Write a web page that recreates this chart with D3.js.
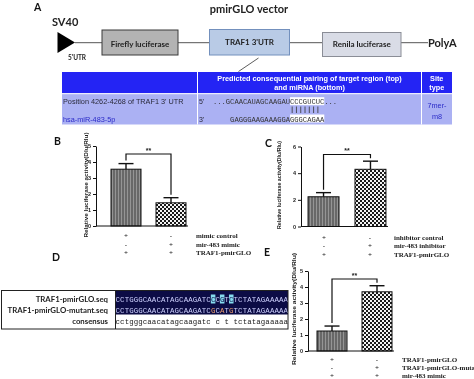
<!DOCTYPE html>
<html lang="en">
<head>
<meta charset="UTF-8">
<title>TRAF1 3'UTR luciferase reporter</title>
<script src="https://d3js.org/d3.v7.min.js"></script>
<style>
  body { margin: 0; background: #fff; }
  svg { display: block; will-change: transform; opacity: 0.999; }
  .sans { font-family: Lato, "Liberation Sans", Arial, sans-serif; font-weight: bold; }
  .arial { font-family: "Liberation Sans", Arial, sans-serif; }
  .mono { font-family: "Liberation Mono", "DejaVu Sans Mono", monospace; }
  .serif { font-family: "Liberation Serif", "Times New Roman", serif; font-weight: bold; }
</style>
</head>
<body>
<div id="chart"></div>
<script>
// ---- data ----
const barGroups = ["control", "treated"];

const bValues = [3.55, 1.45];
const bErrors = [0.35, 0.32];
const bTicks = [0, 1, 2, 3, 4, 5];
const bSigns = [["+", "-"], ["-", "+"], ["+", "+"]];
const bRowLabels = ["mimic control", "mir-483 mimic", "TRAF1-pmirGLO"];

const cValues = [2.23, 4.29];
const cErrors = [0.31, 0.61];
const cTicks = [0, 2, 4, 6];
const cSigns = [["+", "-"], ["-", "+"], ["+", "+"]];
const cRowLabels = ["inhibitor control", "mir-483 inhibitor", "TRAF1-pmirGLO"];

const eValues = [1.25, 3.7];
const eErrors = [0.31, 0.38];
const eTicks = [0, 1, 2, 3, 4, 5];
const eSigns = [["+", "-"], ["-", "+"], ["+", "+"]];
const eRowLabels = ["TRAF1-pmirGLO", "TRAF1-pmirGLO-mutant", "mir-483 mimic"];

const sigLevels = [4.5, 5.4, 4.5];   // height of the ** brackets (B, C, E)
const yTitle = "Relative luciferase activity(Dlu/Rlu)";

const vectorParts = ["Firefly luciferase", "TRAF1 3'UTR", "Renila luciferase"];

const targetTop = "...GCAACAUAGCAAGAUCCCGUCUC...";
const mirnaBottom = "GAGGGAAGAAAGGAGGGCAGAA";
const seedStart = 18;   // first paired base in targetTop
const seedLen = 7;

const seqNames = ["TRAF1-pmirGLO.seq", "TRAF1-pmirGLO-mutant.seq", "consensus"];
const wildSeq = "CCTGGGCAACATAGCAAGATCCCGTCTCTATAGAAAAA";
const mutSeq  = "CCTGGGCAACATAGCAAGATCGCATGTCTATAGAAAAA";

// ---- svg ----
const svg = d3.select("#chart").append("svg")
    .attr("width", 474).attr("height", 379);
svg.append("rect").attr("width", 474).attr("height", 379).attr("fill", "#fff");

const defs = svg.append("defs");
const stripes = defs.append("pattern").attr("id", "stripes")
    .attr("patternUnits", "userSpaceOnUse").attr("width", 3).attr("height", 3);
stripes.append("rect").attr("width", 3).attr("height", 3).attr("fill", "#686868");
stripes.append("rect").attr("x", 1).attr("width", 1).attr("height", 3).attr("fill", "#959595");

const checker = defs.append("pattern").attr("id", "checker")
    .attr("patternUnits", "userSpaceOnUse").attr("width", 4).attr("height", 4);
checker.append("rect").attr("width", 4).attr("height", 4).attr("fill", "#f4f4f4");
checker.append("rect").attr("width", 2).attr("height", 2).attr("fill", "#1a1a1a");
checker.append("rect").attr("x", 2).attr("y", 2).attr("width", 2).attr("height", 2).attr("fill", "#1a1a1a");

// panel letters
[["A", 34, 11], ["B", 54, 145], ["C", 265, 147], ["D", 52, 261], ["E", 264, 256]].forEach(d => {
    svg.append("text").attr("class", "sans").attr("x", d[1]).attr("y", d[2])
        .attr("font-size", 10.5).attr("fill", "#111").text(d[0]);
});

// ---- panel A: vector map ----
svg.append("text").attr("class", "sans").attr("x", 249).attr("y", 13)
    .attr("text-anchor", "middle").attr("font-size", 11).attr("fill", "#222").text("pmirGLO vector");
svg.append("text").attr("class", "sans").attr("x", 52).attr("y", 25.5)
    .attr("font-size", 11).attr("fill", "#222").text("SV40");
svg.append("line").attr("x1", 75).attr("x2", 428).attr("y1", 42.7).attr("y2", 42.7)
    .attr("stroke", "#555").attr("stroke-width", 1);
svg.append("path").attr("d", "M57.5,32 L75,42.5 L57.5,53 Z").attr("fill", "#000");
svg.append("text").attr("class", "sans").attr("x", 68).attr("y", 59.5)
    .attr("font-size", 6.5).attr("fill", "#222").text("5'UTR");

const boxes = [
    { x: 102, y: 30, w: 76, h: 25, fill: "#b3b3b3", stroke: "#3a3a3a", ty: 46.5 },
    { x: 209.5, y: 29.5, w: 80, h: 25.5, fill: "#b9cbe6", stroke: "#7390bd", ty: 44.5 },
    { x: 322.5, y: 32.5, w: 78.5, h: 24, fill: "#d9dce6", stroke: "#8a8d96", ty: 46.5 }
];
boxes.forEach((b, i) => {
    svg.append("rect").attr("x", b.x).attr("y", b.y).attr("width", b.w).attr("height", b.h)
        .attr("fill", b.fill).attr("stroke", b.stroke).attr("stroke-width", 1);
    svg.append("text").attr("class", "sans").attr("x", b.x + b.w / 2).attr("y", b.ty)
        .attr("text-anchor", "middle").attr("font-size", 8).attr("fill", "#222").text(vectorParts[i]);
});
svg.append("text").attr("class", "sans").attr("x", 428).attr("y", 46.5)
    .attr("font-size", 11).attr("fill", "#222").text("PolyA");
svg.append("line").attr("x1", 258.5).attr("y1", 58).attr("x2", 238.5).attr("y2", 71.5)
    .attr("stroke", "#333").attr("stroke-width", 0.8);

// table
const tX = 62, tW = 390, col2 = 197.5, col3 = 421.5;
svg.append("rect").attr("x", tX).attr("y", 72).attr("width", tW).attr("height", 21.5).attr("fill", "#2424f4");
svg.append("rect").attr("x", tX).attr("y", 94).attr("width", tW).attr("height", 30.5).attr("fill", "#abb1f3");
[col2, col3].forEach(x => svg.append("line").attr("x1", x).attr("x2", x).attr("y1", 72).attr("y2", 124.5)
    .attr("stroke", "#fff").attr("stroke-width", 1));
svg.append("line").attr("x1", tX).attr("x2", tX + tW).attr("y1", 93.7).attr("y2", 93.7)
    .attr("stroke", "#fff").attr("stroke-width", 1);

const hdr = svg.append("g").attr("class", "arial").attr("font-weight", "bold")
    .attr("fill", "#fff").attr("font-size", 7.3).attr("text-anchor", "middle");
hdr.append("text").attr("x", (col2 + col3) / 2).attr("y", 81).text("Predicted consequential pairing of target region (top)");
hdr.append("text").attr("x", (col2 + col3) / 2).attr("y", 90).text("and miRNA (bottom)");
hdr.append("text").attr("x", (col3 + tX + tW) / 2).attr("y", 81).text("Site");
hdr.append("text").attr("x", (col3 + tX + tW) / 2).attr("y", 90).text("type");

svg.append("text").attr("class", "arial").attr("x", 63).attr("y", 103.5)
    .attr("font-size", 7.3).attr("fill", "#2a2a3a").text("Position 4262-4268 of TRAF1 3' UTR");
svg.append("text").attr("class", "arial").attr("x", 63).attr("y", 121.5)
    .attr("font-size", 7.3).attr("fill", "#2b2bc8").text("hsa-miR-483-5p");
svg.append("text").attr("class", "arial").attr("x", 199).attr("y", 103.5)
    .attr("font-size", 7).attr("fill", "#2a2a3a").text("5'");
svg.append("text").attr("class", "arial").attr("x", 199).attr("y", 121.5)
    .attr("font-size", 7).attr("fill", "#2a2a3a").text("3'");
svg.append("text").attr("class", "arial").attr("x", 437).attr("y", 108)
    .attr("text-anchor", "middle").attr("font-size", 7.3).attr("fill", "#2b2bc8").text("7mer-");
svg.append("text").attr("class", "arial").attr("x", 437).attr("y", 118.5)
    .attr("text-anchor", "middle").attr("font-size", 7.3).attr("fill", "#2b2bc8").text("m8");

const cw = 4.28, topX = 213, botX = topX + 4 * cw;
// highlights behind the seed match
svg.append("rect").attr("x", topX + seedStart * cw).attr("y", 97.2).attr("width", 8 * cw).attr("height", 8)
    .attr("fill", "#fff");
svg.append("rect").attr("x", botX + (mirnaBottom.length - 8) * cw).attr("y", 114.5).attr("width", 8 * cw).attr("height", 8)
    .attr("fill", "#fff");
svg.append("text").attr("class", "mono").attr("x", topX).attr("y", 103.5).attr("font-size", 7)
    .attr("textLength", targetTop.length * cw).attr("lengthAdjust", "spacingAndGlyphs")
    .attr("fill", "#333").text(targetTop);
svg.append("text").attr("class", "mono").attr("x", botX).attr("y", 121.5).attr("font-size", 7)
    .attr("textLength", mirnaBottom.length * cw).attr("lengthAdjust", "spacingAndGlyphs")
    .attr("fill", "#333").text(mirnaBottom);
d3.range(seedLen).forEach(i => {
    const x = topX + (seedStart + i + 0.5) * cw;
    svg.append("line").attr("x1", x).attr("x2", x).attr("y1", 106.5).attr("y2", 113)
        .attr("stroke", "#333").attr("stroke-width", 0.8);
});

// ---- bar panels ----
function drawBars(cfg) {
    const y = d3.scaleLinear().domain([0, d3.max(cfg.ticks)]).range([cfg.y0, cfg.y1]);
    const x = d3.scaleBand().domain(barGroups).range([cfg.x0, cfg.x1])
        .paddingInner(cfg.pi).paddingOuter(cfg.po);
    const g = svg.append("g");
    const bw = x.bandwidth();

    g.selectAll("rect.bar").data(cfg.values).join("rect").attr("class", "bar")
        .attr("x", (d, i) => x(barGroups[i])).attr("y", d => y(d))
        .attr("width", bw).attr("height", d => y(0) - y(d))
        .attr("fill", (d, i) => i === 0 ? "url(#stripes)" : "url(#checker)")
        .attr("stroke", "#111").attr("stroke-width", 1);

    cfg.values.forEach((v, i) => {
        const cx = x(barGroups[i]) + bw / 2;
        const top = y(v + cfg.errors[i]);
        g.append("line").attr("x1", cx).attr("x2", cx).attr("y1", y(v)).attr("y2", top)
            .attr("stroke", "#111").attr("stroke-width", 1.4);
        g.append("line").attr("x1", cx - 7.5).attr("x2", cx + 7.5).attr("y1", top).attr("y2", top)
            .attr("stroke", "#111").attr("stroke-width", 1.4);
    });

    // baseline
    g.append("line").attr("x1", cfg.x0).attr("x2", x(barGroups[1]) + bw + 2)
        .attr("y1", y(0)).attr("y2", y(0)).attr("stroke", "#111").attr("stroke-width", 1);

    // axis
    const ax = g.append("g").attr("transform", `translate(${cfg.x0},0)`)
        .call(d3.axisLeft(y).tickValues(cfg.ticks).tickFormat(d3.format("d"))
            .tickSize(3).tickSizeOuter(0).tickPadding(2));
    ax.select(".domain").attr("stroke", "#111");
    ax.selectAll(".tick line").attr("stroke", "#111");
    ax.selectAll(".tick text").attr("class", "arial").attr("font-size", 5.5)
        .attr("font-weight", "bold").attr("fill", "#222");

    // significance bracket
    const c0 = x(barGroups[0]) + bw / 2, c1 = x(barGroups[1]) + bw / 2;
    const by = y(cfg.sig);
    const leg0 = y(cfg.values[0] + cfg.errors[0]) - 3;
    const leg1 = y(cfg.values[1] + cfg.errors[1]) - 3;
    g.append("path").attr("d", `M${c0},${leg0} V${by} H${c1} V${leg1}`)
        .attr("fill", "none").attr("stroke", "#111").attr("stroke-width", 1.2);
    g.append("text").attr("class", "arial").attr("x", (c0 + c1) / 2).attr("y", by - 1.5)
        .attr("text-anchor", "middle").attr("font-size", 7).attr("font-weight", "bold")
        .attr("fill", "#222").text("**");

    // y title
    g.append("text").attr("class", "arial").attr("font-weight", "bold")
        .attr("transform", `translate(${cfg.titleX},${cfg.titleY}) rotate(-90)`)
        .attr("text-anchor", "middle").attr("font-size", 6)
        .attr("textLength", cfg.titleLen).attr("lengthAdjust", "spacingAndGlyphs")
        .attr("fill", "#222").text(yTitle);

    // +/- rows
    cfg.signs.forEach((row, r) => {
        const ry = Math.round(y(0) + cfg.rows[r]);
        row.forEach((s, i) => {
            g.append("text").attr("class", "serif").attr("x", Math.round(x(barGroups[i]) + bw / 2)).attr("y", ry + 2.5)
                .attr("text-anchor", "middle")
                .attr("font-size", 7).attr("fill", "#222").text(s);
        });
        g.append("text").attr("class", "serif").attr("x", cfg.labelX).attr("y", ry + 2.5)
            .attr("font-size", 7).attr("fill", "#222").text(cfg.rowLabels[r]);
    });
}

drawBars({ values: bValues, errors: bErrors, ticks: bTicks, signs: bSigns, rowLabels: bRowLabels,
    sig: sigLevels[0], x0: 96, x1: 201, y0: 226, y1: 146, pi: 1 / 3, po: 1 / 3,
    titleX: 88, titleY: 185, titleLen: 105, labelX: 196, rows: [9, 17.5, 25.5] });

drawBars({ values: cValues, errors: cErrors, ticks: cTicks, signs: cSigns, rowLabels: cRowLabels,
    sig: sigLevels[1], x0: 301, x1: 393, y0: 226.5, y1: 146.5, pi: 0.34, po: 0.15,
    titleX: 281, titleY: 185, titleLen: 88, labelX: 394, rows: [10, 18.5, 27.5] });

drawBars({ values: eValues, errors: eErrors, ticks: eTicks, signs: eSigns, rowLabels: eRowLabels,
    sig: sigLevels[2], x0: 308, x1: 401, y0: 351, y1: 271, pi: 1 / 3, po: 0.2,
    titleX: 296, titleY: 309, titleLen: 112, labelX: 402, rows: [7.5, 15.7, 24] });

// ---- panel D: alignment ----
const dx = 115.5, dRight = 288, dw = dRight - dx, scw = dw / wildSeq.length;
const rowY = [302, 312.5, 324];
svg.append("rect").attr("x", dx).attr("y", 290.5).attr("width", dw).attr("height", 24).attr("fill", "#0c0c45");
const consensus = wildSeq.split("").map((ch, i) => ch === mutSeq[i] ? ch.toLowerCase() : " ");
consensus.forEach((ch, i) => {
    if (ch === " ") {
        svg.append("rect").attr("x", dx + i * scw).attr("y", 294.5).attr("width", scw).attr("height", 9)
            .attr("fill", "#86dcef");
    }
});
[wildSeq, mutSeq].forEach((s, r) => {
    s.split("").forEach((ch, i) => {
        const mis = consensus[i] === " ";
        svg.append("text").attr("class", "mono").attr("x", dx + (i + 0.5) * scw).attr("y", rowY[r])
            .attr("text-anchor", "middle").attr("font-size", 7.4)
            .attr("fill", mis ? (r === 0 ? "#0c0c45" : "#f0a070") : "#cfd2ff").text(ch);
    });
});
consensus.forEach((ch, i) => {
    svg.append("text").attr("class", "mono").attr("x", dx + (i + 0.5) * scw).attr("y", rowY[2])
        .attr("text-anchor", "middle").attr("font-size", 7.4).attr("fill", "#222").text(ch);
});
svg.append("rect").attr("x", 1.5).attr("y", 290.5).attr("width", dRight - 1.5).attr("height", 38.5)
    .attr("fill", "none").attr("stroke", "#222").attr("stroke-width", 1);
svg.append("line").attr("x1", dx).attr("x2", dx).attr("y1", 290.5).attr("y2", 329)
    .attr("stroke", "#222").attr("stroke-width", 1);
seqNames.forEach((n, i) => {
    svg.append("text").attr("class", "sans").attr("x", 108).attr("y", rowY[i])
        .attr("text-anchor", "end").attr("font-size", 7.8).attr("fill", "#222").text(n);
});
</script>
</body>
</html>
